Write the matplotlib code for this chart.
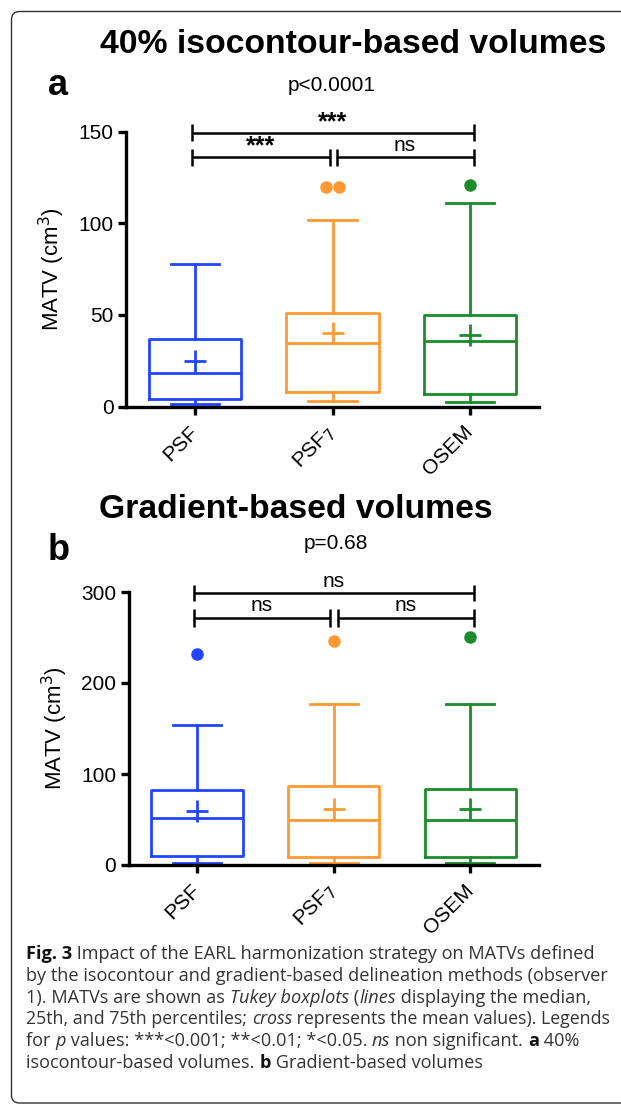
import numpy as np
import matplotlib
matplotlib.use('Agg')
import matplotlib.pyplot as plt
from matplotlib.patches import PathPatch
from matplotlib.path import Path
from matplotlib.transforms import IdentityTransform

plt.rcParams['font.family'] = ['Liberation Sans', 'DejaVu Sans']

groups = ['PSF', 'PSF$_7$', 'OSEM']
colors = ['#2244ff', '#ff9933', '#1a8c2a']

# panel a: 40% isocontour
a_low = [1.5, 3, 2.7]
a_q1 = [4.2, 8, 7.1]
a_med = [18.5, 34.6, 36]
a_mean = [24.8, 40.4, 39.3]
a_q3 = [36.8, 50.9, 50]
a_high = [77.7, 102, 110.9]
a_out = [[], [120, 120], [120.7]]

# panel b: gradient
b_low = [1.8, 2, 2]
b_q1 = [9.9, 9.1, 9]
b_med = [51.8, 49.3, 49]
b_mean = [59.5, 62, 62]
b_q3 = [82.9, 87.3, 83]
b_high = [153.3, 177, 177]
b_out = [[232], [246], [251]]

W, H = 621, 1105
fig = plt.figure(figsize=(W / 100, H / 100), dpi=100)


def fy(px):
    return (H - px) / H


def fx(px):
    return px / W


def draw_panel(ax, low, q1, med, mean, q3, high, outs, ymax, yticks):
    stats = []
    for i in range(len(groups)):
        stats.append(dict(med=med[i], q1=q1[i], q3=q3[i], whislo=low[i],
                          whishi=high[i], mean=mean[i], fliers=[]))
    pos = np.arange(1, len(groups) + 1)
    bp = ax.bxp(stats, positions=pos, widths=0.67, capwidths=0.35,
                showmeans=True, showfliers=False, patch_artist=False)
    for i, c in enumerate(colors):
        for art in [bp['boxes'][i], bp['medians'][i]]:
            art.set_color(c)
            art.set_linewidth(2.0)
        for art in bp['whiskers'][2 * i:2 * i + 2] + bp['caps'][2 * i:2 * i + 2]:
            art.set_color(c)
            art.set_linewidth(2.0)
        m = bp['means'][i]
        m.set_marker('+')
        m.set_markersize(15.5)
        m.set_markeredgewidth(2.0)
        m.set_markeredgecolor(c)
        m.set_markerfacecolor(c)
        # outliers, side by side if repeated
        vals = outs[i]
        n = len(vals)
        offs = (np.arange(n) - (n - 1) / 2) * 0.09
        ax.plot(pos[i] + offs, vals, 'o', color=c, markersize=8,
                clip_on=False, zorder=5)
    ax.set_xlim(0.5, 3.5)
    ax.set_ylim(0, ymax)
    ax.set_yticks(yticks)
    ax.set_xticks(pos)
    ax.set_xticklabels(groups, rotation=45, ha='right', va='center',
                       rotation_mode='anchor', fontsize=15)
    ax.tick_params(axis='y', labelsize=15, length=6, width=2.4, pad=3)
    ax.tick_params(axis='x', length=6, width=2.4, pad=10)
    for s in ['top', 'right']:
        ax.spines[s].set_visible(False)
    for s in ['left', 'bottom']:
        ax.spines[s].set_linewidth(2.4)
    ax.set_ylabel('MATV (cm$^3$)', fontsize=16, labelpad=8)


def bracket(ax, x0, x1, y, ylo, yhi, label, ty):
    kw = dict(color='black', lw=1.8, clip_on=False, solid_capstyle='butt')
    ax.plot([x0, x1], [y, y], **kw)
    ax.plot([x0, x0], [ylo, yhi], **kw)
    ax.plot([x1, x1], [ylo, yhi], **kw)
    if label.startswith('*'):
        ax.text((x0 + x1) / 2, ty - 1.5 * (ty - y), label, ha='center',
                va='bottom', fontsize=18, fontweight='bold', clip_on=False)
    else:
        ax.text((x0 + x1) / 2, ty, label, ha='center', va='bottom',
                fontsize=15, clip_on=False)


ax_a = fig.add_axes([fx(126), fy(406.7), fx(413), fy(131.5) - fy(406.7)])
draw_panel(ax_a, a_low, a_q1, a_med, a_mean, a_q3, a_high, a_out, 150,
           [0, 50, 100, 150])
bracket(ax_a, 0.977, 3.025, 149.2, 144.7, 154.2, '***', 150.5)
bracket(ax_a, 0.977, 1.98, 136, 131, 140.5, '***', 137.3)
bracket(ax_a, 2.03, 3.025, 136, 131, 140.5, 'ns', 137.3)

ax_b = fig.add_axes([fx(128.7), fy(865), fx(410), fy(592) - fy(865)])
draw_panel(ax_b, b_low, b_q1, b_med, b_mean, b_q3, b_high, b_out, 300,
           [0, 100, 200, 300])
bracket(ax_b, 0.977, 3.023, 298.6, 290.2, 307.7, 'ns', 301)
bracket(ax_b, 0.977, 1.97, 271.9, 262, 281, 'ns', 274.5)
bracket(ax_b, 2.03, 3.023, 271.9, 262, 281, 'ns', 274.5)

# titles and panel letters
fig.text(fx(353.5), fy(53), '40% isocontour-based volumes', ha='center',
         va='baseline', fontsize=24.3, fontweight='bold')
fig.text(fx(48), fy(95), 'a', ha='left', va='baseline', fontsize=26,
         fontweight='bold')
fig.text(fx(332), fy(91), 'p<0.0001', ha='center', va='baseline', fontsize=15)

fig.text(fx(296), fy(518), 'Gradient-based volumes', ha='center',
         va='baseline', fontsize=24.3, fontweight='bold')
fig.text(fx(48), fy(560), 'b', ha='left', va='baseline', fontsize=26,
         fontweight='bold')
fig.text(fx(335.6), fy(549), 'p=0.68', ha='center', va='baseline', fontsize=15)

# frame: top, left and bottom sides only, open on the right (pixel coords)
L, T, B, r = 11.5, H - 11.5, 2.0, 8.0
verts = [(W + 20, T), (L + r, T), (L, T), (L, T - r), (L, B + r),
         (L, B), (L + r, B), (W + 20, B)]
codes = [Path.MOVETO, Path.LINETO, Path.CURVE3, Path.CURVE3, Path.LINETO,
         Path.CURVE3, Path.CURVE3, Path.LINETO]
frame = PathPatch(Path(verts, codes), transform=IdentityTransform(),
                  fill=False, edgecolor='#333333', lw=1.0)
fig.add_artist(frame)

# caption
caption = [
    [('Fig. 3', 'bold'), (' Impact of the EARL harmonization strategy on MATVs defined', 'normal')],
    [('by the isocontour and gradient-based delineation methods (observer', 'normal')],
    [('1). MATVs are shown as ', 'normal'), ('Tukey boxplots', 'italic'), (' (', 'normal'),
     ('lines', 'italic'), (' displaying the median,', 'normal')],
    [('25th, and 75th percentiles; ', 'normal'), ('cross', 'italic'),
     (' represents the mean values). Legends', 'normal')],
    [('for ', 'normal'), ('p', 'italic'), (' values: ***<0.001; **<0.01; *<0.05. ', 'normal'),
     ('ns', 'italic'), (' non significant. ', 'normal'), ('a', 'bold'), (' 40%', 'normal')],
    [('isocontour-based volumes. ', 'normal'), ('b', 'bold'), (' Gradient-based volumes', 'normal')],
]
renderer = fig.canvas.get_renderer()
y0 = 959
x_start, x_max = 26, 610
for li, segs in enumerate(caption):
    y = y0 + li * 21.8
    size = 13.1
    for attempt in range(2):
        x = x_start
        texts = []
        for txt, sty in segs:
            kw = dict(fontsize=size, family=['Open Sans', 'DejaVu Sans'],
                      color='#333333', va='baseline', ha='left')
            if sty == 'bold':
                kw['fontweight'] = 'bold'
                kw['color'] = '#111111'
            if sty == 'italic':
                kw['fontstyle'] = 'italic'
            t = fig.text(fx(x), fy(y), txt, **kw)
            texts.append(t)
            x += t.get_window_extent(renderer).width
        if x <= x_max or attempt == 1:
            break
        # too wide: shrink this line and redo it
        for t in texts:
            t.remove()
        size = size * (x_max - x_start) / (x - x_start)

fig.savefig('out.png', dpi=100)
